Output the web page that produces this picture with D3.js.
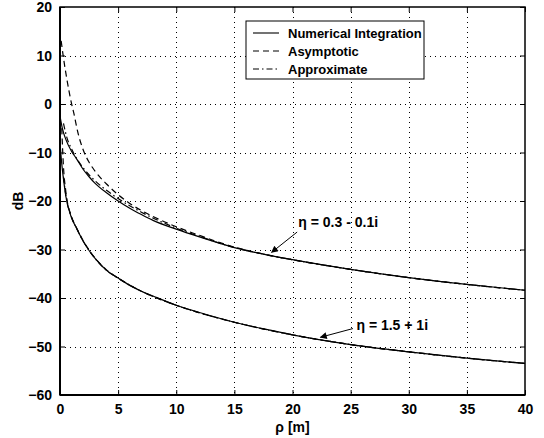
<!DOCTYPE html>
<html><head><meta charset="utf-8">
<script src="https://cdn.jsdelivr.net/npm/d3@7"></script>
<style>body{margin:0;background:#fff}svg{display:block}text{font-family:"Liberation Sans",Arial,sans-serif;font-weight:bold;fill:#000}</style>
</head><body><svg id="c" width="544" height="438"></svg>
<script>
// ---- data ----
const xTicks = [0,5,10,15,20,25,30,35,40];
const yTicks = [20,10,0,-10,-20,-30,-40,-50,-60];
const legendLabels = ["Numerical Integration","Asymptotic","Approximate"];

// eta = 0.3 - 0.1i
const rhoUpNum = [0,0.2,0.5,1,1.4,2,2.5,3,4,5,6,7,8,10,12,15,18,20,25,30,35,40];
const dbUpNum  = [-2.5,-5,-7.3,-9.8,-11.2,-13.5,-15,-16.3,-18.3,-20,-21.5,-22.8,-24,-25.8,-27.4,-29.6,-31.2,-32.1,-34.1,-35.8,-37.2,-38.4];
const rhoUpAsy = [0.1,0.3,0.6,1,1.2,1.5,2,2.5,3,4,5,6,8,10,12,15,18,20,25,30,35,40];
const dbUpAsy  = [13,9.5,5,0,-2,-5.5,-9.5,-12,-13.8,-16.5,-18.7,-20.5,-23.2,-25.3,-27.1,-29.5,-31.2,-32.1,-34.1,-35.8,-37.2,-38.4];
const rhoUpApp = [0.3,0.6,1,1.5,2,3,4,5,7,10,12,15,18,20,25,30,35,40];
const dbUpApp  = [-4,-7,-9.3,-11.5,-13.2,-15.8,-17.8,-19.5,-22.3,-25.6,-27.3,-29.6,-31.2,-32.1,-34.1,-35.8,-37.2,-38.4];

// eta = 1.5 + 1i
const rhoLoNum = [0,0.1,0.3,0.5,1,1.4,2,2.5,3,4,5,6,7,8,10,12,15,18,20,25,30,35,40];
const dbLoNum  = [-8,-11,-15.5,-19,-23.5,-25.5,-28.3,-30.2,-31.8,-34.3,-35.9,-37.4,-38.6,-39.6,-41.5,-43,-45,-46.6,-47.6,-49.6,-51.1,-52.4,-53.5];
const rhoLoAsy = [0.15,0.3,0.5,1,1.4,2,3,4,5,7,10,15,20,25,30,35,40];
const dbLoAsy  = [-5,-13,-18,-23.3,-25.4,-28.2,-31.7,-34.2,-35.9,-38.6,-41.5,-45,-47.6,-49.6,-51.1,-52.4,-53.5];
const rhoLoApp = [0.3,0.5,1,1.4,2,3,4,5,7,10,15,20,25,30,35,40];
const dbLoApp  = [-15,-18.8,-23.4,-25.5,-28.3,-31.8,-34.3,-35.9,-38.6,-41.5,-45,-47.6,-49.6,-51.1,-52.4,-53.5];

const annUp = {text:"\u03b7 = 0.3 - 0.1i", rho:20.5, db:-25.4, tailRho:20.4, tailDb:-26.4, tipRho:18.2, tipDb:-30.6};
const annLo = {text:"\u03b7 = 1.5 + 1i", rho:25.5, db:-46.6, tailRho:25.2, tailDb:-46.3, tipRho:22.4, tipDb:-48.1};

// ---- layout ----
const svg = d3.select("#c");
const L=60, R=525, T=7, B=395;
const x = d3.scaleLinear().domain([0,40]).range([L,R]);
const y = d3.scaleLinear().domain([-60,20]).range([B,T]);
const crisp = v => Math.round(v)+0.5;

// grid
const g = svg.append("g");
g.selectAll(".vg").data(xTicks.slice(1,-1)).enter().append("line")
 .attr("x1",d=>crisp(x(d))).attr("x2",d=>crisp(x(d))).attr("y1",T).attr("y2",B)
 .attr("stroke","#000").attr("stroke-width",1).attr("stroke-dasharray","1,4");
g.selectAll(".hg").data(yTicks.slice(1,-1)).enter().append("line")
 .attr("y1",d=>crisp(y(d))).attr("y2",d=>crisp(y(d))).attr("x1",L).attr("x2",R)
 .attr("stroke","#000").attr("stroke-width",1).attr("stroke-dasharray","1,4");

// axes
const xa = svg.append("g").attr("transform",`translate(0,${B})`)
 .call(d3.axisBottom(x).tickValues(xTicks).tickSize(-5).tickPadding(9).tickFormat(d3.format("d")));
const xt = svg.append("g").attr("transform",`translate(0,${T})`)
 .call(d3.axisTop(x).tickValues(xTicks).tickSize(-5).tickFormat(""));
const ya = svg.append("g").attr("transform",`translate(${L},0)`)
 .call(d3.axisLeft(y).tickValues(yTicks).tickSize(-5).tickPadding(8).tickFormat(d3.format("d")));
const yr = svg.append("g").attr("transform",`translate(${R},0)`)
 .call(d3.axisRight(y).tickValues(yTicks).tickSize(-5).tickFormat(""));
[xa,xt,ya,yr].forEach(a=>{a.select(".domain").remove();a.selectAll("line").attr("stroke","#000");
 a.selectAll("text").style("font-size","14px").style("font-family","'Liberation Sans',Arial,sans-serif").style("font-weight","bold").attr("fill","#000");});
ya.selectAll("text").attr("dy","0.35em");

// curves
const line = d3.line().x(d=>x(d[0])).y(d=>y(d[1])).curve(d3.curveMonotoneX);
svg.append("clipPath").attr("id","pc").append("rect").attr("x",L).attr("y",T).attr("width",R-L).attr("height",B-T);
const cg = svg.append("g").attr("clip-path","url(#pc)");
const zip=(a,b)=>a.map((v,i)=>[v,b[i]]);
const series = [
 [rhoUpNum,dbUpNum,null],[rhoUpAsy,dbUpAsy,"6,4"],[rhoUpApp,dbUpApp,"6,3,1.5,3"],
 [rhoLoNum,dbLoNum,null],[rhoLoAsy,dbLoAsy,"6,4"],[rhoLoApp,dbLoApp,"6,3,1.5,3"]];
series.forEach(s=>{
 cg.append("path").datum(zip(s[0],s[1])).attr("d",line).attr("fill","none")
  .attr("stroke","#000").attr("stroke-width",1.2).attr("stroke-dasharray",s[2]);
});

// frame
svg.append("rect").attr("x",L).attr("y",T).attr("width",R-L).attr("height",B-T)
 .attr("fill","none").attr("stroke","#000").attr("stroke-width",1.5);
svg.append("line").attr("x1",L).attr("x2",L).attr("y1",T).attr("y2",B).attr("stroke","#000").attr("stroke-width",2);
svg.append("line").attr("x1",L).attr("x2",R).attr("y1",B).attr("y2",B).attr("stroke","#000").attr("stroke-width",2);

// axis labels
svg.append("text").attr("x",(L+R)/2).attr("y",432).attr("text-anchor","middle").style("font-size","14px").text("\u03c1 [m]");
svg.append("text").attr("transform",`translate(23,${y(-20)}) rotate(-90)`).attr("text-anchor","middle").style("font-size","14px").text("dB");

// legend
const lg = svg.append("g");
lg.append("rect").attr("x",246).attr("y",21).attr("width",178).attr("height",58).attr("fill","#fff").attr("stroke","#000").attr("stroke-width",1);
const dashes=[null,"6,4","6,3,1.5,3"];
legendLabels.forEach((t,i)=>{
 const yy = 33 + i*18;
 lg.append("line").attr("x1",253).attr("x2",279).attr("y1",yy).attr("y2",yy).attr("stroke","#000").attr("stroke-width",1.1).attr("stroke-dasharray",dashes[i]);
 lg.append("text").attr("x",288).attr("y",yy).attr("dy","0.36em").style("font-size","13px").text(t);
});

// annotations
svg.append("defs").append("marker").attr("id","ah").attr("viewBox","0 0 10 10").attr("refX",9).attr("refY",5)
 .attr("markerWidth",9).attr("markerHeight",7).attr("markerUnits","userSpaceOnUse").attr("orient","auto")
 .append("path").attr("d","M0,0L10,5L0,10z").attr("fill","#000");
[annUp,annLo].forEach(a=>{
 svg.append("text").attr("x",x(a.rho)).attr("y",y(a.db)).style("font-size","14px").text(a.text);
 svg.append("line").attr("x1",x(a.tailRho)).attr("y1",y(a.tailDb)).attr("x2",x(a.tipRho)).attr("y2",y(a.tipDb))
  .attr("stroke","#000").attr("stroke-width",1).attr("marker-end","url(#ah)");
});
</script></body></html>
